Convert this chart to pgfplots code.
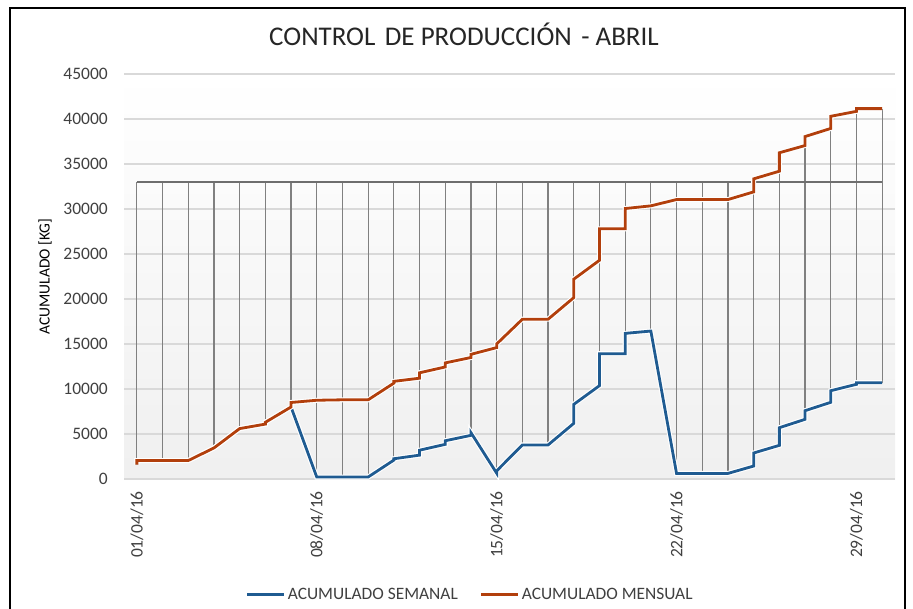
\documentclass[border=0pt]{standalone}
\usepackage{pgfplots}
\usepackage{pgfplotstable}
\pgfplotsset{compat=1.18}
\usepackage{fontspec}
\setmainfont{Carlito}
\definecolor{blueS}{HTML}{1F5B91}
\definecolor{orangeS}{HTML}{B23F0C}
\definecolor{gridc}{HTML}{D9D9D9}
\definecolor{metac}{HTML}{6E6E6E}
\definecolor{dropc}{HTML}{808080}
\definecolor{txt}{HTML}{404040}

\pgfplotstableread{
d v
1 1600
1 2050
2 2050
3 2050
4 3450
5 5600
6 6100
6 6300
7 8000
7 8500
8 8750
9 8800
10 8800
11 10650
11 10850
12 11200
12 11800
13 12450
13 12900
14 13500
14 13850
15 14600
15 15000
16 17750
17 17750
18 20150
18 22200
19 24300
19 27800
20 27800
20 30050
21 30350
22 31050
23 31050
24 31050
25 31900
25 33350
26 34200
26 36250
27 37050
27 38050
28 38950
28 40300
29 40850
29 41150
30 41150
}\mensual

\pgfplotstableread{
d v
1 1600
1 2050
2 2050
3 2050
4 3450
5 5600
6 6100
6 6300
7 8000
8 220
9 220
10 220
11 2100
11 2250
12 2650
12 3200
13 3850
13 4250
14 4850
14 5150
15 650
15 900
16 3780
17 3780
18 6180
18 8290
19 10370
19 13920
20 13920
20 16180
21 16440
22 620
23 620
24 620
25 1440
25 2890
26 3740
26 5700
27 6630
27 7590
28 8520
28 9810
29 10520
29 10700
30 10700
}\semanal

\pgfplotstableread{
d lo hi
1 1600 33000
2 2050 33000
3 2050 33000
4 3450 33000
5 5600 33000
6 6100 33000
7 8000 33000
8 220 33000
9 220 33000
10 220 33000
11 2100 33000
12 2650 33000
13 3850 33000
14 4850 33000
15 650 33000
16 3780 33000
17 3780 33000
18 6180 33000
19 10370 33000
20 13920 33000
21 16440 33000
22 620 33000
23 620 33000
24 620 33000
25 1440 33350
26 3740 36250
27 6630 38050
28 8520 40300
29 10520 41150
30 10700 41150
}\drops

\pgfplotstableread{
d v
1 33000
30 33000
}\meta

\begin{document}
\begin{tikzpicture}[x=1pt,y=1pt]
\path[use as bounding box] (0,0) rectangle (913,608);
\fill[white] (0,0) rectangle (913,608);
\draw[black, line width=2pt] (10,-3) -- (10,600) -- (905,600) -- (905,-3);
\node[font=\fontsize{27}{32}\selectfont, text=black!85, anchor=base] at (464,562) {CONTROL\hspace{0.35em}DE PRODUCCIÓN\hspace{0.35em}- ABRIL};
\begin{axis}[
  at={(124pt,129pt)}, anchor=south west,
  scale only axis, width=771pt, height=405pt,
  xmin=0.5, xmax=30.5, ymin=0, ymax=45000,
  xtick={1,8,15,22,29},
  xticklabels={01/04/16,08/04/16,15/04/16,22/04/16,29/04/16},
  ytick={0,5000,...,45000},
  scaled y ticks=false,
  /pgf/number format/1000 sep={},
  /pgf/number format/assume math mode=true,
  tick label style={font=\fontsize{17.5}{20}\selectfont, text=txt},
  x tick label style={rotate=90, anchor=east, inner sep=0pt, xshift=-12pt},
  y tick label style={anchor=east, inner sep=0pt, xshift=-16pt},
  major tick length=0pt,
  ymajorgrids, grid style={gridc, line width=1.2pt},
  axis x line*=bottom, axis y line*=left,
  x axis line style={gridc, line width=2pt},
  y axis line style={draw=none},
  ylabel={ACUMULADO [KG]},
  ylabel style={at={(axis description cs:-0.1025,0.5)}, anchor=center, font=\fontsize{15.5}{18}\selectfont, text=black},
  axis background/.style={top color=white, bottom color=black!6},
  legend style={at={(axis description cs:0.449,-0.285)}, anchor=center, draw=none, fill=none,
    legend columns=2, font=\fontsize{17.4}{20}\selectfont, text=txt,
    /tikz/every even column/.append style={column sep=20pt}},
  legend image code/.code={\draw[#1, line width=3pt] (0pt,0pt) -- (37pt,0pt);},
]
\addplot[draw=none, mark=none, forget plot,
  error bars/.cd, y dir=plus, y explicit, error mark=none,
  error bar style={draw=dropc, solid, line width=1.2pt}]
  table[x=d, y=lo, y error expr=\thisrow{hi}-\thisrow{lo}] {\drops};
\addplot[metac, line width=2.8pt, forget plot] table[x=d, y=v] {\meta};
\addplot[white, line width=5pt, forget plot] table[x=d, y=v] {\semanal};
\addplot[blueS, line width=2.8pt] table[x=d, y=v] {\semanal};
\addplot[white, line width=5pt, forget plot] table[x=d, y=v] {\mensual};
\addplot[orangeS, line width=2.8pt] table[x=d, y=v] {\mensual};
\legend{ACUMULADO SEMANAL, ACUMULADO MENSUAL}
\end{axis}
\end{tikzpicture}
\end{document}
